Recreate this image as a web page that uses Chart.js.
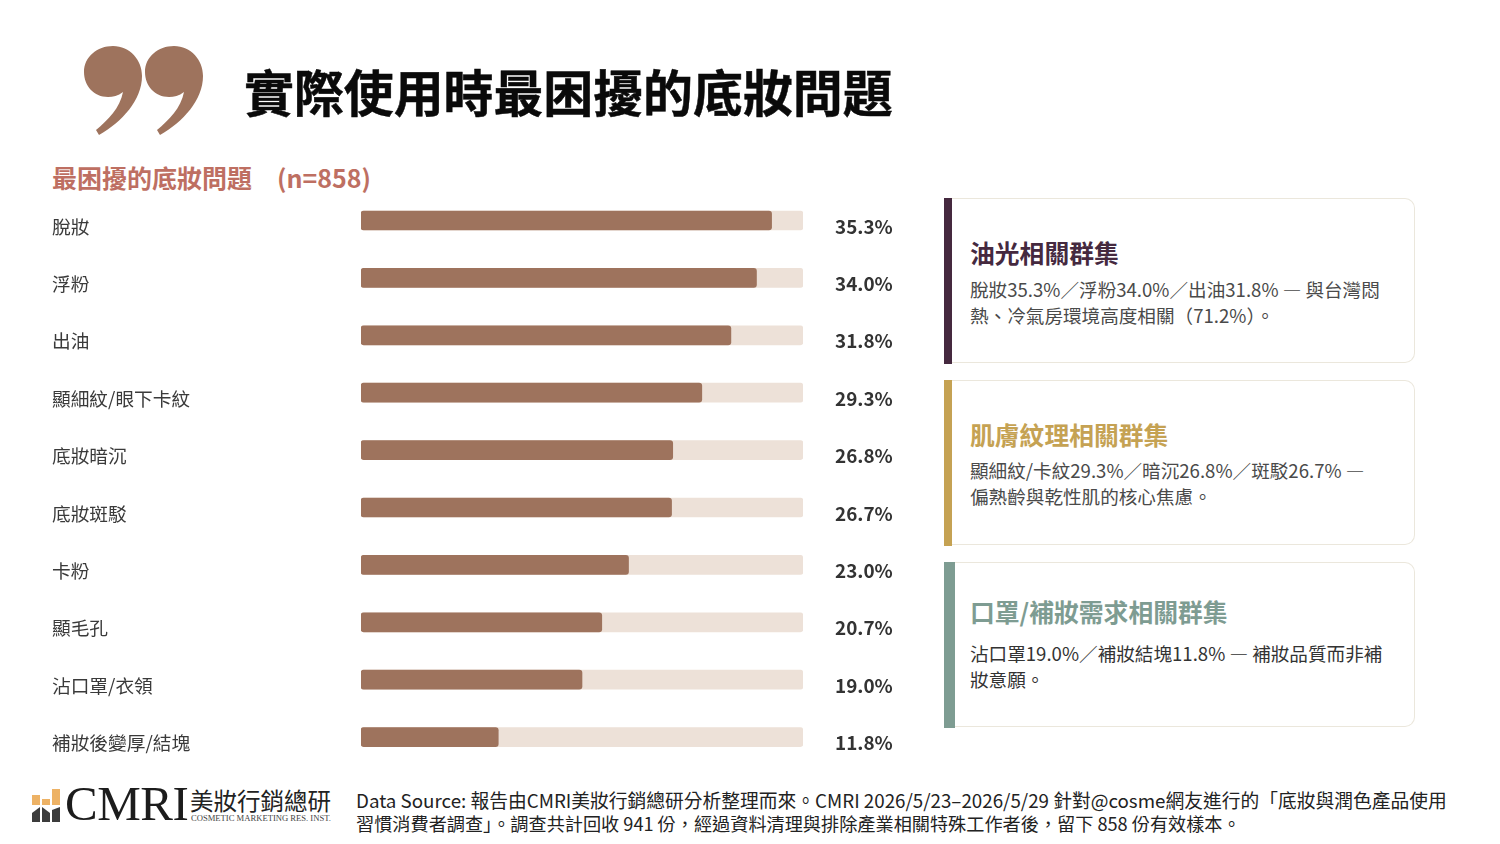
<!DOCTYPE html>
<html lang="zh-Hant">
<head>
<meta charset="utf-8">
<title>實際使用時最困擾的底妝問題</title>
<script src="https://cdn.jsdelivr.net/npm/chart.js@4/dist/chart.umd.min.js"></script>
<style>
html, body { margin: 0; padding: 0; background: #fff; }
body { width: 1500px; height: 844px; position: relative; overflow: hidden; font-family: "Noto Sans CJK TC", "Noto Sans", sans-serif; }
.abs { position: absolute; white-space: nowrap; }
#title { left: 244px; top: 54px; font-size: 49.9px; line-height: 72px; font-weight: 700; color: #0a0a0a; -webkit-text-stroke: 0.5px #0a0a0a; }
#subtitle { left: 52px; top: 159px; font-size: 25px; line-height: 36px; font-weight: 700; color: #BE6F62; }
#chartBox { position: absolute; left: 0; top: 185px; width: 930px; height: 590px; }
.card { position: absolute; left: 944px; width: 471px; height: 165px; box-sizing: border-box; background: #fff; border: 1.5px solid #EBE7DC; border-left: none; border-radius: 0 10px 10px 0; }
.card i { position: absolute; left: 0; top: -1.5px; bottom: -1.5px; }
.card h3 { position: absolute; left: 26px; margin: 0; font-size: 24.8px; line-height: 36px; font-weight: 700; white-space: nowrap; }
.card p { position: absolute; left: 26px; margin: 0; font-size: 18.6px; line-height: 26px; color: #4a4a4a; white-space: nowrap; }
#logoEn { left: 65px; top: 779px; font-family: "Liberation Serif", serif; font-size: 49px; line-height: 50px; color: #1c1c1c; letter-spacing: -0.5px; }
#logoZh { left: 190px; top: 783px; font-size: 23.5px; line-height: 34px; font-weight: 400; color: #222; }
#logoSub { left: 191px; top: 812px; font-family: "Liberation Serif", serif; font-size: 8.6px; line-height: 12px; color: #444; }
#source { left: 356px; top: 789px; line-height: 21.5px; color: #222; }
#source .l1 { font-size: 18.75px; }
#source .l2 { font-size: 18.17px; }
</style>
</head>
<body>
<svg class="abs" style="left:0;top:0" width="230" height="150">
  <path id="q" fill="#9E735D" d="M113 46C130 46 142 60 142 76C142 100 122 122 99 135L96 130C108 120 120 108 123 92C118 96 113 97 108 97C94 97 84 86 84 72C84 57 97 46 113 46Z"/>
  <use href="#q" x="61"/>
</svg>
<div class="abs" id="title">實際使用時最困擾的底妝問題</div>
<div class="abs" id="subtitle">最困擾的底妝問題　(n=858)</div>

<div id="chartBox"><canvas id="chart"></canvas></div>

<div class="card" style="top:198px">
  <i style="width:8px;background:#45293F"></i>
  <h3 style="top:35px;color:#45293F">油光相關群集</h3>
  <p style="top:77px">脫妝35.3%／浮粉34.0%／出油31.8% — 與台灣悶<br>熱、冷氣房環境高度相關（71.2%）。</p>
</div>
<div class="card" style="top:380px">
  <i style="width:8px;background:#C5A253"></i>
  <h3 style="top:35px;color:#C5A253">肌膚紋理相關群集</h3>
  <p style="top:76px">顯細紋/卡紋29.3%／暗沉26.8%／斑駁26.7% —<br>偏熟齡與乾性肌的核心焦慮。</p>
</div>
<div class="card" style="top:562px">
  <i style="width:11px;background:#7E9C92"></i>
  <h3 style="top:30px;color:#7E9C92">口罩/補妝需求相關群集</h3>
  <p style="top:77px;color:#333">沾口罩19.0%／補妝結塊11.8% — 補妝品質而非補<br>妝意願。</p>
</div>

<svg class="abs" style="left:30px;top:786px" width="32" height="38">
  <g fill="#EDB265">
    <rect x="2" y="9" width="8" height="10"/>
    <rect x="12" y="13" width="8" height="6"/>
    <rect x="22" y="3" width="8" height="16"/>
  </g>
  <g fill="#3c3c3c">
    <polygon points="2,36 2,27 10,21 10,36"/>
    <polygon points="12,36 12,21 20,27 20,36"/>
    <polygon points="22,36 22,24 30,21 30,36"/>
  </g>
</svg>
<div class="abs" id="logoEn">CMRI</div>
<div class="abs" id="logoZh">美妝行銷總研</div>
<div class="abs" id="logoSub">COSMETIC MARKETING RES. INST.</div>
<div class="abs" id="source"><span class="l1">Data Source: 報告由CMRI美妝行銷總研分析整理而來。CMRI 2026/5/23–2026/5/29 針對@cosme網友進行的「底妝與潤色產品使用</span><br><span class="l2">習慣消費者調查」。調查共計回收 941 份，經過資料清理與排除產業相關特殊工作者後，留下 858 份有效樣本。</span></div>

<script>
const categories = ['脫妝', '浮粉', '出油', '顯細紋/眼下卡紋', '底妝暗沉', '底妝斑駁', '卡粉', '顯毛孔', '沾口罩/衣領', '補妝後變厚/結塊'];
const shares = [35.3, 34.0, 31.8, 29.3, 26.8, 26.7, 23.0, 20.7, 19.0, 11.8];
const trackValues = [38, 38, 38, 38, 38, 38, 38, 38, 38, 38];

const fontFamily = '"Noto Sans CJK TC", "Noto Sans", sans-serif';

// percent labels to the right of the track, a bit lower than the bar like the row labels
const valueLabels = {
    id: 'valueLabels',
    afterDatasetsDraw(chart) {
        const { ctx, scales: { x, y } } = chart;
        ctx.save();
        ctx.font = `700 18.9px ${fontFamily}`;
        ctx.fillStyle = '#333333';
        ctx.textAlign = 'left';
        ctx.textBaseline = 'middle';
        shares.forEach((v, i) => {
            ctx.fillText(v.toFixed(1) + '%', x.right + 32, y.getPixelForValue(i) + 6);
        });
        ctx.restore();
    }
};

new Chart(document.getElementById('chart'), {
    type: 'bar',
    data: {
        labels: categories,
        datasets: [
            { label: '比例', data: shares, backgroundColor: '#9E735D', borderRadius: 3, borderSkipped: false, barThickness: 19 },
            { label: 'track', data: trackValues, backgroundColor: '#EDE1D8', borderRadius: 3, borderSkipped: false, barThickness: 19 }
        ]
    },
    options: {
        indexAxis: 'y',
        responsive: true,
        maintainAspectRatio: false,
        animation: false,
        layout: { padding: { left: 52, right: 127, top: 6.8, bottom: 9.2 } },
        datasets: { bar: { grouped: false } },
        plugins: { legend: { display: false }, tooltip: { enabled: false } },
        scales: {
            x: { display: false, min: 0, max: 38 },
            y: {
                afterFit(scale) {
                    scale.width = 309;
                    // tick labels must not eat into the plot height
                    scale.paddingTop = 0;
                    scale.paddingBottom = 0;
                },
                grid: { display: false },
                border: { display: false },
                ticks: {
                    crossAlign: 'far',
                    labelOffset: 6,
                    padding: 0,
                    color: '#3a3a3a',
                    font: { family: fontFamily, size: 18.7 }
                }
            }
        }
    },
    plugins: [valueLabels]
});
</script>
</body>
</html>
